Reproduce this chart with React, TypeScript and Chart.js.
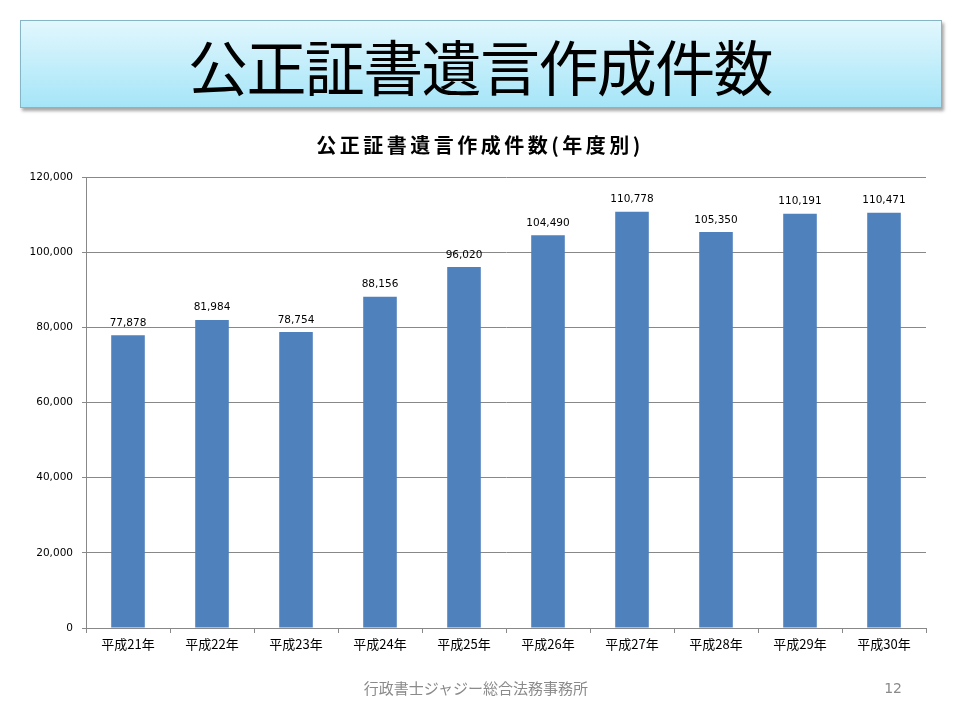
import React, { useEffect, useRef } from "react";
import { Chart, registerables } from "chart.js";

Chart.register(...registerables);

const categories = ["平成21年", "平成22年", "平成23年", "平成24年", "平成25年", "平成26年", "平成27年", "平成28年", "平成29年", "平成30年"];
const counts = [77878, 81984, 78754, 88156, 96020, 104490, 110778, 105350, 110191, 110471];
const yMin = 0;
const yMax = 120000;
const yStep = 20000;

const fmt = (v: number) => v.toLocaleString("en-US");

const valueLabels = {
  id: "valueLabels",
  afterDatasetsDraw(chart: any) {
    const ctx = chart.ctx;
    const meta = chart.getDatasetMeta(0);
    ctx.save();
    ctx.font = "10.5px 'DejaVu Sans', sans-serif";
    ctx.fillStyle = "#000";
    ctx.textAlign = "center";
    ctx.textBaseline = "bottom";
    meta.data.forEach((bar: any, i: number) => {
      ctx.fillText(fmt(counts[i]), bar.x, bar.y - 7);
    });
    ctx.restore();
  },
};

export default function App() {
  const ref = useRef<HTMLCanvasElement>(null);
  useEffect(() => {
    if (!ref.current) return;
    const chart = new Chart(ref.current, {
      type: "bar",
      data: {
        labels: categories,
        datasets: [
          {
            data: counts,
            backgroundColor: "#4f81bd",
            barPercentage: 0.4,
            categoryPercentage: 1,
          },
        ],
      },
      options: {
        animation: false,
        responsive: false,
        layout: { padding: { left: 0, right: 34, top: 177, bottom: 0 } },
        plugins: { legend: { display: false }, tooltip: { enabled: false }, title: { display: false } },
        scales: {
          x: {
            afterFit: (s: any) => {
              s.height = 92;
            },
            grid: { drawOnChartArea: false, drawTicks: true, tickLength: 5, offset: true, color: "#888" },
            border: { color: "#888" },
            ticks: { color: "#000", padding: 3, font: { family: "'Noto Sans CJK JP'", size: 13 } },
          },
          y: {
            min: yMin,
            max: yMax,
            afterFit: (s: any) => {
              s.width = 86;
            },
            grid: { color: "#888", tickLength: 4 },
            border: { color: "#888" },
            ticks: {
              stepSize: yStep,
              padding: 9,
              color: "#000",
              font: { family: "'DejaVu Sans'", size: 10.5 },
              callback: (v: any) => fmt(Number(v)),
            },
          },
        },
      },
      plugins: [valueLabels],
    });
    return () => chart.destroy();
  }, []);

  return (
    <div
      style={{
        position: "absolute",
        left: 0,
        top: 0,
        width: 960,
        height: 720,
        background: "#fff",
        fontFamily: "'Noto Sans CJK JP', sans-serif",
        overflow: "hidden",
      }}
    >
      <div
        style={{
          position: "absolute",
          left: 20,
          top: 20,
          width: 920,
          height: 86,
          background: "linear-gradient(#e2f7fd, #a5e5f8)",
          border: "1px solid #86b6c6",
          boxShadow: "2px 3px 3px rgba(0,0,0,0.35)",
        }}
      />
      <div
        style={{
          position: "absolute",
          left: 0,
          top: 22,
          width: 960,
          height: 86,
          lineHeight: "86px",
          textAlign: "center",
          fontSize: 60,
          fontWeight: 400,
          letterSpacing: -1.6,
          color: "#000",
        }}
      >
        公正証書遺言作成件数
      </div>
      <canvas ref={ref} width={960} height={720} style={{ position: "absolute", left: 0, top: 0 }} />
      <div
        style={{
          position: "absolute",
          left: 0,
          top: 131,
          width: 960,
          textAlign: "center",
          fontSize: 20,
          fontWeight: 700,
          letterSpacing: 3.5,
          lineHeight: "28px",
          color: "#000",
        }}
      >
        公正証書遺言作成件数(年度別)
      </div>
      <div
        style={{
          position: "absolute",
          left: -4,
          top: 676,
          width: 960,
          textAlign: "center",
          fontSize: 15,
          lineHeight: "24px",
          color: "#8a8a8a",
        }}
      >
        行政書士ジャジー総合法務事務所
      </div>
      <div
        style={{
          position: "absolute",
          left: 878,
          top: 677,
          width: 24,
          textAlign: "right",
          fontSize: 14,
          lineHeight: "22px",
          color: "#8a8a8a",
          fontFamily: "'DejaVu Sans', sans-serif",
        }}
      >
        12
      </div>
    </div>
  );
}
